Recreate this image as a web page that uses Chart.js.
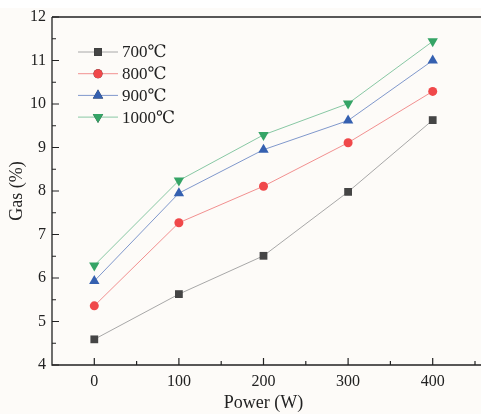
<!DOCTYPE html>
<html>
<head>
<meta charset="utf-8">
<script src="https://cdn.jsdelivr.net/npm/chart.js@4/dist/chart.umd.min.js"></script>
<style>
  html, body { margin: 0; padding: 0; background: #ffffff; }
  #wrap { width: 481px; height: 414px; }
</style>
</head>
<body>
<div id="wrap"><canvas id="myChart" width="481" height="414"></canvas></div>
<script>
// power (W) on x, gas (%) on y
var powers = [0, 100, 200, 300, 400];
var gas700 = [4.59, 5.63, 6.51, 7.98, 9.63];
var gas800 = [5.36, 7.27, 8.11, 9.11, 10.29];
var gas900 = [5.93, 7.95, 8.95, 9.62, 11.00];
var gas1000 = [6.29, 8.24, 9.29, 10.01, 11.44];
var seriesLabels = ['700℃', '800℃', '900℃', '1000℃'];
var xTicks = [0, 100, 200, 300, 400];
var yTicks = [4, 5, 6, 7, 8, 9, 10, 11, 12];

var serif = "'Liberation Serif', 'DejaVu Serif', serif";

function toPoints(vals) {
  var pts = [];
  for (var i = 0; i < powers.length; i++) pts.push({x: powers[i], y: vals[i]});
  return pts;
}

// frame, inward ticks and legend drawn with the chart's scales
var framePlugin = {
  id: 'frame',
  beforeDraw: function(chart) {
    var c = chart.ctx;
    c.save();
    c.fillStyle = '#fdfbf8';
    c.fillRect(0, 8, chart.width, chart.height - 8);
    c.restore();
  },
  afterDatasetsDraw: function(chart) {
    var a = chart.chartArea, c = chart.ctx;
    var xs = chart.scales.x, ys = chart.scales.y;
    c.save();
    c.strokeStyle = '#222';
    c.lineWidth = 1.3;
    c.beginPath();
    c.moveTo(a.left, a.top); c.lineTo(chart.width, a.top);
    c.moveTo(a.left, a.top); c.lineTo(a.left, a.bottom);
    c.lineTo(chart.width, a.bottom);
    c.stroke();
    c.lineWidth = 1.2;
    c.beginPath();
    for (var v = -50; v <= 450; v += 50) {
      var px = xs.getPixelForValue(v);
      if (px <= a.left + 1 || px > chart.width) continue;
      var len = (v % 100 === 0) ? 7 : 4;
      c.moveTo(px, a.bottom); c.lineTo(px, a.bottom - len);
    }
    for (var w = 4; w <= 12; w += 0.5) {
      var py = ys.getPixelForValue(w);
      var ln = (w % 1 === 0) ? 7 : 4;
      c.moveTo(a.left, py); c.lineTo(a.left + ln, py);
    }
    c.stroke();

    // legend
    var lx = 78, ly = 52, step = 21.7;
    c.font = '17px ' + serif;
    c.textBaseline = 'middle';
    chart.data.datasets.forEach(function(ds, i) {
      var y = ly + i * step;
      c.strokeStyle = ds.borderColor;
      c.lineWidth = 1;
      c.beginPath(); c.moveTo(lx, y); c.lineTo(lx + 40, y); c.stroke();
      Chart.helpers.drawPoint(c, {
        pointStyle: ds.pointStyle, radius: ds.pointRadius, rotation: ds.pointRotation || 0, borderWidth: 0
      }, lx + 20, y);
      c.fillStyle = ds.pointBackgroundColor;
      c.fill();
      c.fillStyle = '#222';
      c.fillText(ds.label, lx + 44, y + 1);
    });
    c.restore();
  }
};

var ctx = document.getElementById('myChart').getContext('2d');
var myChart = new Chart(ctx, {
  type: 'line',
  data: {
    datasets: [{
      label: seriesLabels[0],
      data: toPoints(gas700),
      borderColor: '#a8a8a8',
      pointBackgroundColor: '#454545',
      pointBorderColor: '#454545',
      pointStyle: 'rect',
      pointRadius: 5.5
    }, {
      label: seriesLabels[1],
      data: toPoints(gas800),
      borderColor: '#f29090',
      pointBackgroundColor: '#f0484a',
      pointBorderColor: '#f0484a',
      pointStyle: 'circle',
      pointRadius: 4.5
    }, {
      label: seriesLabels[2],
      data: toPoints(gas900),
      borderColor: '#8098cc',
      pointBackgroundColor: '#3560b0',
      pointBorderColor: '#3560b0',
      pointStyle: 'triangle',
      pointRadius: 6
    }, {
      label: seriesLabels[3],
      data: toPoints(gas1000),
      borderColor: '#88c8a4',
      pointBackgroundColor: '#35a466',
      pointBorderColor: '#35a466',
      pointStyle: 'triangle',
      pointRotation: 180,
      pointRadius: 6
    }]
  },
  options: {
    responsive: false,
    animation: false,
    layout: { padding: { top: 17, right: 0, left: 0, bottom: 0 } },
    elements: { line: { borderWidth: 1, tension: 0 }, point: { borderWidth: 0 } },
    plugins: { legend: { display: false }, tooltip: { enabled: false } },
    scales: {
      x: {
        type: 'linear', min: -50, max: 450,
        afterFit: function(s) { s.height = 49; },
        afterBuildTicks: function(s) { s.ticks = xTicks.map(function(v) { return {value: v}; }); },
        grid: { display: false, drawTicks: false },
        border: { display: false },
        ticks: { color: '#222', font: { family: serif, size: 16 }, padding: 7, maxRotation: 0 },
        title: { display: true, text: 'Power (W)', color: '#222', font: { family: serif, size: 18 }, padding: { top: 0, bottom: 0 } }
      },
      y: {
        type: 'linear', min: 4, max: 12,
        afterFit: function(s) { s.width = 52; },
        afterBuildTicks: function(s) { s.ticks = yTicks.map(function(v) { return {value: v}; }); },
        grid: { display: false, drawTicks: false },
        border: { display: false },
        ticks: { color: '#222', font: { family: serif, size: 16 }, padding: 6 },
        title: { display: true, text: 'Gas (%)', color: '#222', font: { family: serif, size: 18 }, padding: { top: 6, bottom: 0 } }
      }
    }
  },
  plugins: [framePlugin]
});
</script>
</body>
</html>
